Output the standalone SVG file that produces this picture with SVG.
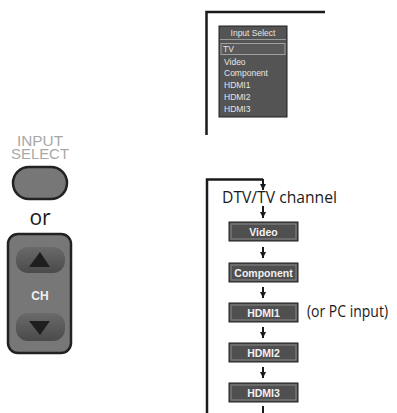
<svg xmlns="http://www.w3.org/2000/svg" width="397" height="413" viewBox="0 0 397 413">
<style>
.ln{stroke:#1a1a1a;stroke-width:2.5;fill:none}
.ar{stroke:#1a1a1a;stroke-width:2;fill:none}
.box{fill:#4f4f4f;stroke:#1e1e1e;stroke-width:1}
.boxin{fill:none;stroke:#8a8a8a;stroke-width:1}
.bt{font-family:"Liberation Sans",Arial,sans-serif;font-weight:bold;font-size:10.5px;fill:#f2f2f2;text-anchor:middle}
.mt{font-family:"Liberation Sans",Arial,sans-serif;font-size:8.5px;fill:#e6e6e6}
.big{font-family:"Open Sans","Liberation Sans",sans-serif;font-size:15.5px;fill:#1a1a1a}
.gl{font-family:"Liberation Sans",Arial,sans-serif;font-size:15px;fill:#a8a8a8;text-anchor:middle}
</style>
<defs>
<marker id="ah" viewBox="0 0 6 6" refX="6" refY="3" markerWidth="6" markerHeight="6" markerUnits="userSpaceOnUse" orient="auto">
<path d="M0,0 L6,3 L0,6 Z" fill="#1a1a1a"/>
</marker>
<linearGradient id="btn" x1="0" y1="0" x2="0" y2="1">
<stop offset="0" stop-color="#6a6a6a"/><stop offset="0.5" stop-color="#5a5a5a"/><stop offset="1" stop-color="#4a4a4a"/>
</linearGradient>
</defs>

<g id="input-select-label">
<text x="40" y="146" class="gl" textLength="46" lengthAdjust="spacingAndGlyphs">INPUT</text>
<text x="40" y="158.5" class="gl" textLength="58" lengthAdjust="spacingAndGlyphs">SELECT</text>
</g>
<g id="input-select-button">
<rect x="13" y="167" width="54" height="32" rx="16" fill="#777" stroke="#222" stroke-width="2.5"/>
</g>
<g id="or-label">
<text x="40" y="225" font-family="Open Sans,Liberation Sans,sans-serif" font-size="21" fill="#1a1a1a" text-anchor="middle">or</text>
</g>
<g id="ch-button">
<rect x="8" y="234" width="63" height="119" rx="10" fill="#777" stroke="#222" stroke-width="2.5"/>
<rect x="16" y="247" width="49" height="26" rx="12" fill="url(#btn)"/>
<path d="M40,252 L50,267 L29,267 Z" fill="#1e1e1e"/>
<text x="40" y="300" font-family="Liberation Sans,Arial,sans-serif" font-weight="bold" font-size="12" fill="#f0f0f0" text-anchor="middle">CH</text>
<rect x="16" y="313" width="49" height="28" rx="12" fill="url(#btn)"/>
<path d="M29,321 L50,321 L40,335 Z" fill="#1e1e1e"/>
</g>

<g id="menu">
<rect x="219" y="26" width="68" height="91" fill="#545454" stroke="#1e1e1e" stroke-width="1"/>
<text x="253" y="36" class="mt" text-anchor="middle" fill="#dcdcdc">Input Select</text>
<line x1="220" y1="39.5" x2="286" y2="39.5" stroke="#9a9a9a" stroke-width="1"/>
<rect x="221" y="43.5" width="64" height="11" fill="#5a5a5a" stroke="#a0a0a0" stroke-width="1"/>
<text x="223" y="52" class="mt">TV</text>
<text x="224" y="64.5" class="mt">Video</text>
<text x="224" y="76" class="mt">Component</text>
<text x="224" y="88" class="mt">HDMI1</text>
<text x="224" y="100" class="mt">HDMI2</text>
<text x="224" y="111.5" class="mt">HDMI3</text>
</g>

<g id="dtv">
<text x="222" y="203" class="big" textLength="115" lengthAdjust="spacingAndGlyphs">DTV/TV channel</text>
</g>
<g id="video">
<rect x="229" y="222" width="69" height="19" class="box"/>
<rect x="231" y="224" width="65" height="15" class="boxin"/>
<text x="263.5" y="235.5" class="bt">Video</text>
</g>
<g id="component">
<rect x="229" y="263" width="69" height="19" class="box"/>
<rect x="231" y="265" width="65" height="15" class="boxin"/>
<text x="263.5" y="276.5" class="bt" font-size="10">Component</text>
</g>
<g id="hdmi1">
<rect x="229" y="303" width="69" height="19" class="box"/>
<rect x="231" y="305" width="65" height="15" class="boxin"/>
<text x="263.5" y="316.5" class="bt">HDMI1</text>
</g>
<g id="pc-note">
<text x="307" y="317" class="big" textLength="81" lengthAdjust="spacingAndGlyphs">(or PC input)</text>
</g>
<g id="hdmi2">
<rect x="229" y="343" width="69" height="19" class="box"/>
<rect x="231" y="345" width="65" height="15" class="boxin"/>
<text x="263.5" y="356.5" class="bt">HDMI2</text>
</g>
<g id="hdmi3">
<rect x="229" y="383" width="69" height="19" class="box"/>
<rect x="231" y="385" width="65" height="15" class="boxin"/>
<text x="263.5" y="396.5" class="bt">HDMI3</text>
</g>

<g id="connectors">
<polyline class="ln" points="206.5,135 206.5,12 325,12"/>
<polyline class="ln" points="207,413 207,179.5 263,179.5"/>
<line x1="263" y1="179" x2="263" y2="190" class="ar" marker-end="url(#ah)"/>
<line x1="263" y1="206" x2="263" y2="218" class="ar" marker-end="url(#ah)"/>
<line x1="263" y1="247" x2="263" y2="258" class="ar" marker-end="url(#ah)"/>
<line x1="263" y1="287" x2="263" y2="298" class="ar" marker-end="url(#ah)"/>
<line x1="263" y1="327" x2="263" y2="338" class="ar" marker-end="url(#ah)"/>
<line x1="263" y1="367" x2="263" y2="378" class="ar" marker-end="url(#ah)"/>
<line x1="263" y1="406" x2="263" y2="413" class="ar"/>
</g>
</svg>
